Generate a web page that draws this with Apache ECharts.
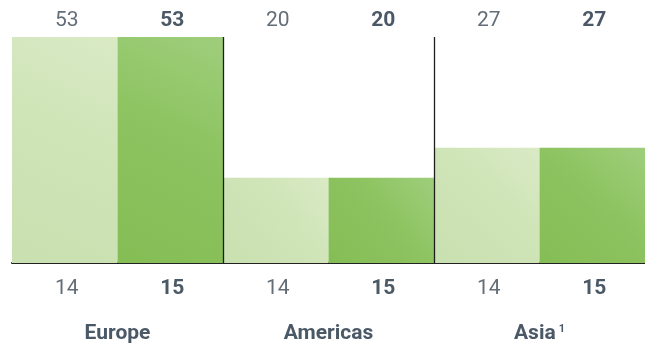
<!DOCTYPE html>
<html>
<head>
<meta charset="utf-8">
<script src="https://cdn.jsdelivr.net/npm/echarts@6/dist/echarts.min.js"></script>
<style>html,body{margin:0;padding:0;background:#fff}#c{width:645px;height:346px}</style>
</head>
<body>
<div id="c"></div>
<script>
const categories = ['Europe', 'Americas', 'Asia'];
const footnotes = ['', '', '1'];
const topValuesA = [53, 20, 27];   // light bars (previous)
const topValuesB = [53, 20, 27];   // dark bars (current)
const bottomValuesA = [14, 14, 14];
const bottomValuesB = [15, 15, 15];

const pairLabels = (a, b) => { const out = []; a.forEach((v, i) => { out.push(String(v)); out.push(String(b[i])); }); return out; };
const topTicks = pairLabels(topValuesA, topValuesB);
const bottomTicks = pairLabels(bottomValuesA, bottomValuesB);

const FONT = 'Roboto, "Noto Sans", sans-serif';
const NORMAL = '#646e78';
const BOLD = '#4b5866';
const pairRich = {
  n: { fontFamily: FONT, fontSize: 21, color: NORMAL, fontWeight: 'normal', padding: [0, 0, 0, 4] },
  b: { fontFamily: FONT, fontSize: 21, color: BOLD, fontWeight: 'bold', padding: [0, 0, 0, 4] }
};
const pairFmt = (v, i) => (i % 2 ? '{b|' + v + '}' : '{n|' + v + '}');

const grad = (stops) => ({ type: 'linear', x: 0, y: 1, x2: 1, y2: 0,
  colorStops: stops.map(s => ({ offset: s[0], color: s[1] })) });

const chart = echarts.init(document.getElementById('c'), null, { renderer: 'canvas' });
chart.setOption({
  backgroundColor: '#ffffff',
  animation: false,
  grid: { left: 12, right: 0, top: 37, bottom: 83, containLabel: false },
  xAxis: [
    {
      type: 'category', data: categories, position: 'bottom',
      axisLine: { show: true, lineStyle: { color: '#222', width: 2 } },
      axisTick: { show: false },
      axisLabel: {
        margin: 60,
        formatter: (v, i) => '{c|' + v + '}' + (footnotes[i] ? '{s|' + footnotes[i] + '}' : ''),
        rich: {
          c: { fontFamily: FONT, fontSize: 21, fontWeight: 'bold', color: BOLD },
          s: { fontFamily: FONT, fontSize: 11, fontWeight: 'bold', color: BOLD, padding: [0, 0, 9, 3] }
        }
      },
      splitLine: { show: false }
    },
    {
      type: 'category', data: bottomTicks, position: 'bottom',
      axisLine: { show: false }, axisTick: { show: false },
      axisLabel: { margin: 15, formatter: pairFmt, rich: pairRich },
      splitLine: { show: false }
    },
    {
      type: 'category', data: topTicks, position: 'top',
      axisLine: { show: false }, axisTick: { show: false },
      axisLabel: { margin: 6, formatter: pairFmt, rich: pairRich },
      splitLine: { show: false }
    },
    {
      type: 'value', min: 0, max: categories.length, interval: 1, position: 'bottom', z: 10,
      axisLine: { show: false }, axisTick: { show: false }, axisLabel: { show: false },
      splitLine: { show: true, showMinLine: false, showMaxLine: false, lineStyle: { color: '#1e1e1e', width: 1.3 } }
    }
  ],
  yAxis: { type: 'value', min: 0, max: 53, show: false, splitLine: { show: false } },
  series: [
    {
      type: 'bar', xAxisIndex: 0, data: topValuesA, barGap: '0%', barCategoryGap: '0%',
      itemStyle: { color: grad([[0, '#c9e0b0'], [0.55, '#cfe4b7'], [1, '#d9eac5']]) }
    },
    {
      type: 'bar', xAxisIndex: 0, data: topValuesB, barGap: '0%', barCategoryGap: '0%',
      itemStyle: { color: grad([[0, '#85bd55'], [0.55, '#8dc360'], [1, '#9fce7c']]) }
    }
  ]
});
</script>
</body>
</html>
